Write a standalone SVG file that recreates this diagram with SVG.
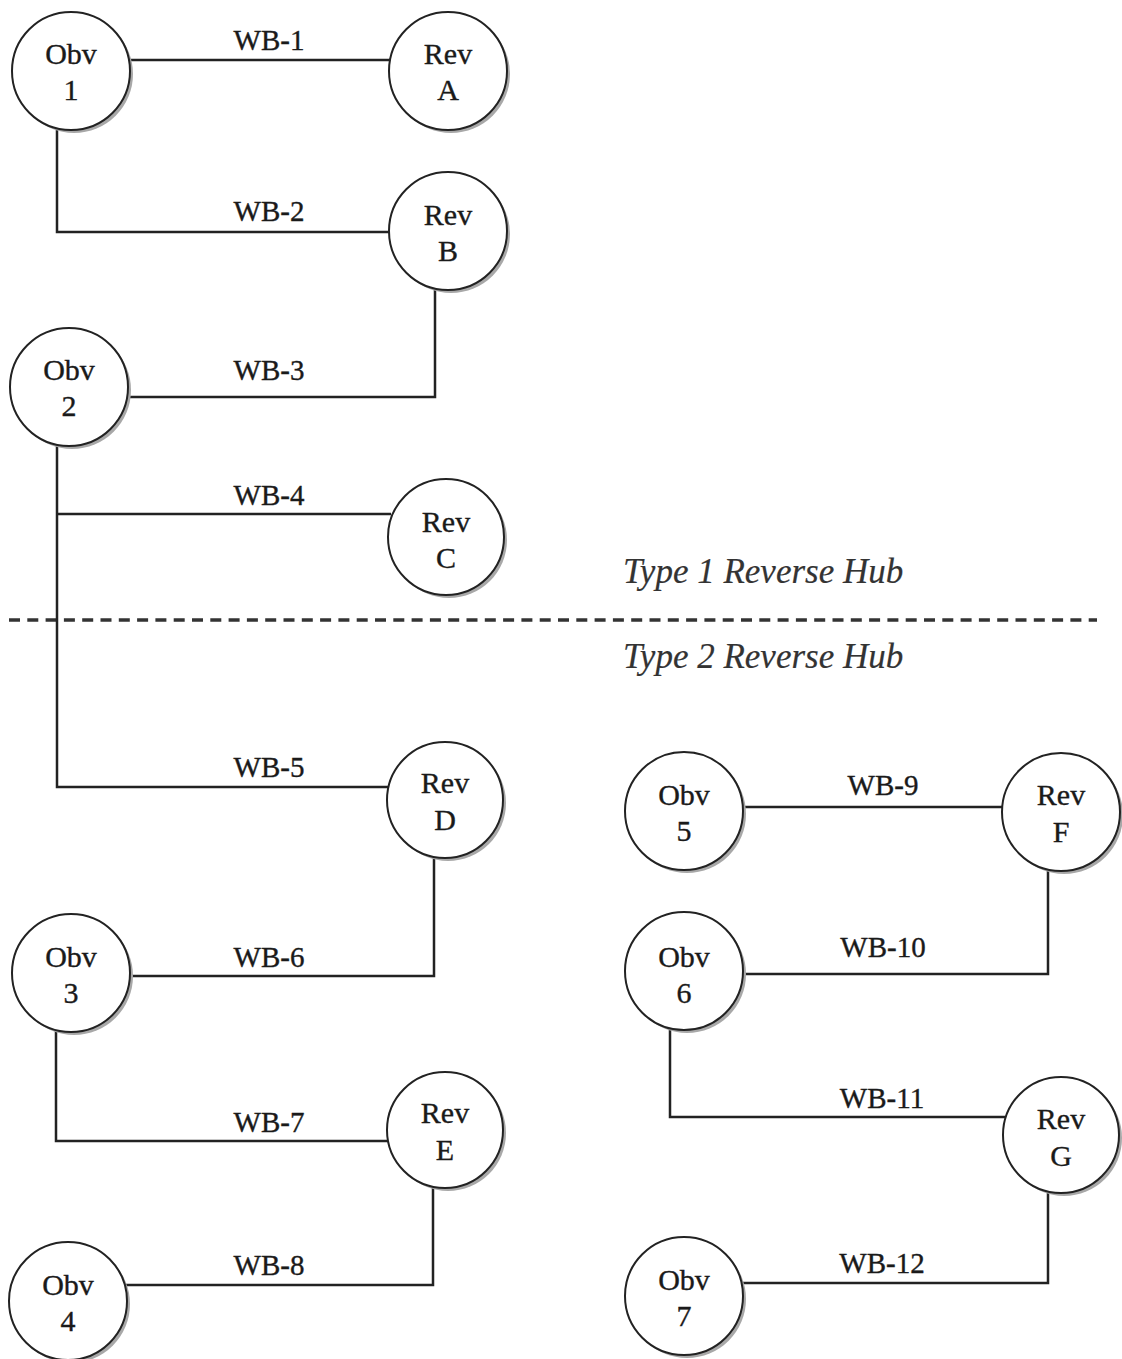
<svg xmlns="http://www.w3.org/2000/svg" width="1122" height="1359" viewBox="0 0 1122 1359">
<style>
.conn{fill:none;stroke:#222;stroke-width:2.5;stroke-linejoin:miter}
.shadow{fill:#a8a8a8;stroke:none}
.node{fill:#fff;stroke:#222;stroke-width:2}
.nt{font-family:"Liberation Serif","Times New Roman",serif;font-size:30px;fill:#1a1a1a;stroke:#1a1a1a;stroke-width:0.35;text-anchor:middle}
.lbl{font-family:"Liberation Serif","Times New Roman",serif;font-size:29px;fill:#1a1a1a;stroke:#1a1a1a;stroke-width:0.35;text-anchor:middle}
.hub{font-family:"Liberation Serif","Times New Roman",serif;font-size:35px;font-style:italic;fill:#333;stroke:#333;stroke-width:0.2}
.divider{stroke:#333;stroke-width:3.5;stroke-dasharray:11 7.3;fill:none}
</style>
<rect width="1122" height="1359" fill="#fff"/>
<g id="divider">
<line class="divider" x1="9" y1="620" x2="1097" y2="620"/>
<text class="hub" x="623" y="583">Type 1 Reverse Hub</text>
<text class="hub" x="623" y="668">Type 2 Reverse Hub</text>
</g>
<g id="connectors">
<path class="conn" d="M129,60 H390"/>
<path class="conn" d="M57,128 V232 H390"/>
<path class="conn" d="M435,289 V397 H127"/>
<path class="conn" d="M57,514 H391"/>
<path class="conn" d="M57,445 V787 H388"/>
<path class="conn" d="M434,857 V976 H129"/>
<path class="conn" d="M56,1030 V1141 H388"/>
<path class="conn" d="M433,1187 V1285 H125"/>
<path class="conn" d="M743,807 H1002"/>
<path class="conn" d="M1048,869 V974 H743"/>
<path class="conn" d="M670,1028 V1117 H1005"/>
<path class="conn" d="M1048,1191 V1283 H741"/>
<text class="lbl" x="269" y="50">WB-1</text>
<text class="lbl" x="269" y="221">WB-2</text>
<text class="lbl" x="269" y="380">WB-3</text>
<text class="lbl" x="269" y="505">WB-4</text>
<text class="lbl" x="269" y="777">WB-5</text>
<text class="lbl" x="269" y="967">WB-6</text>
<text class="lbl" x="269" y="1132">WB-7</text>
<text class="lbl" x="269" y="1275">WB-8</text>
<text class="lbl" x="883" y="795">WB-9</text>
<text class="lbl" x="883" y="957">WB-10</text>
<text class="lbl" x="882" y="1108">WB-11</text>
<text class="lbl" x="882" y="1273">WB-12</text>
</g>
<g id="obv1"><circle class="shadow" cx="74" cy="74" r="59"/><circle class="node" cx="71" cy="71" r="59"/><text class="nt" x="71" y="64">Obv</text><text class="nt" x="71" y="100">1</text></g>
<g id="revA"><circle class="shadow" cx="451" cy="74" r="59"/><circle class="node" cx="448" cy="71" r="59"/><text class="nt" x="448" y="64">Rev</text><text class="nt" x="448" y="100">A</text></g>
<g id="revB"><circle class="shadow" cx="451" cy="234" r="59"/><circle class="node" cx="448" cy="231" r="59"/><text class="nt" x="448" y="225">Rev</text><text class="nt" x="448" y="261">B</text></g>
<g id="obv2"><circle class="shadow" cx="72" cy="390" r="59"/><circle class="node" cx="69" cy="387" r="59"/><text class="nt" x="69" y="380">Obv</text><text class="nt" x="69" y="416">2</text></g>
<g id="revC"><circle class="shadow" cx="449" cy="540" r="58"/><circle class="node" cx="446" cy="537" r="58"/><text class="nt" x="446" y="532">Rev</text><text class="nt" x="446" y="568">C</text></g>
<g id="revD"><circle class="shadow" cx="448" cy="803" r="58"/><circle class="node" cx="445" cy="800" r="58"/><text class="nt" x="445" y="793">Rev</text><text class="nt" x="445" y="830">D</text></g>
<g id="obv3"><circle class="shadow" cx="74" cy="976" r="59"/><circle class="node" cx="71" cy="973" r="59"/><text class="nt" x="71" y="967">Obv</text><text class="nt" x="71" y="1003">3</text></g>
<g id="revE"><circle class="shadow" cx="448" cy="1133" r="58"/><circle class="node" cx="445" cy="1130" r="58"/><text class="nt" x="445" y="1123">Rev</text><text class="nt" x="445" y="1160">E</text></g>
<g id="obv4"><circle class="shadow" cx="71" cy="1304" r="59"/><circle class="node" cx="68" cy="1301" r="59"/><text class="nt" x="68" y="1295">Obv</text><text class="nt" x="68" y="1331">4</text></g>
<g id="obv5"><circle class="shadow" cx="687" cy="814" r="59"/><circle class="node" cx="684" cy="811" r="59"/><text class="nt" x="684" y="805">Obv</text><text class="nt" x="684" y="841">5</text></g>
<g id="revF"><circle class="shadow" cx="1064" cy="815" r="59"/><circle class="node" cx="1061" cy="812" r="59"/><text class="nt" x="1061" y="805">Rev</text><text class="nt" x="1061" y="842">F</text></g>
<g id="obv6"><circle class="shadow" cx="687" cy="974" r="59"/><circle class="node" cx="684" cy="971" r="59"/><text class="nt" x="684" y="967">Obv</text><text class="nt" x="684" y="1003">6</text></g>
<g id="revG"><circle class="shadow" cx="1064" cy="1138" r="58"/><circle class="node" cx="1061" cy="1135" r="58"/><text class="nt" x="1061" y="1129">Rev</text><text class="nt" x="1061" y="1166">G</text></g>
<g id="obv7"><circle class="shadow" cx="687" cy="1299" r="59"/><circle class="node" cx="684" cy="1296" r="59"/><text class="nt" x="684" y="1290">Obv</text><text class="nt" x="684" y="1326">7</text></g>
</svg>
